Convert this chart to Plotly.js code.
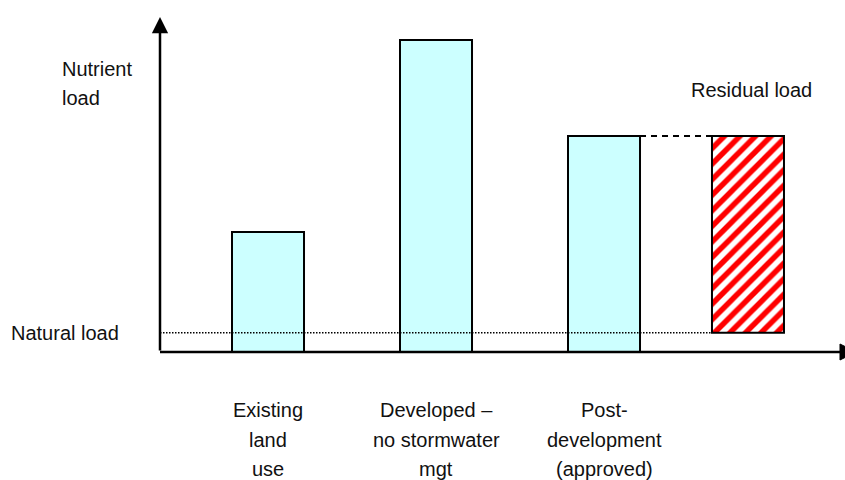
<!DOCTYPE html>
<html>
<head>
<meta charset="utf-8">
<script src="https://cdn.plot.ly/plotly-3.0.1.min.js"></script>
<style>
  html, body { margin: 0; padding: 0; background: #fff; }
  #chart { width: 845px; height: 480px; }
</style>
</head>
<body>
<div id="chart"></div>
<script>
// Nutrient loads by land-use scenario (relative units)
const categories = ["Existing<br>land<br>use", "Developed \u2013<br>no stormwater<br>mgt", "Post-<br>development<br>(approved)"];
const categoryPos = [1, 2, 3];
const loads = [1.25, 3.25, 2.25];
const naturalLoad = 0.2;
const residualPos = 3.857;
const residualTop = loads[2];

const barWidth = 0.4286;
const xRange = [0.3571, 4.4345];
const yRange = [0, 3.5];
const lineGap = 29.5; // px between stacked text lines
const txt = { family: "'Liberation Sans', Arial, sans-serif", size: 20, color: "#111" };

const traces = [
  {
    type: "bar",
    x: categoryPos,
    y: loads,
    width: barWidth,
    marker: { color: "#CCFFFF", line: { color: "#000", width: 2 } },
    hoverinfo: "skip"
  },
  {
    type: "bar",
    x: [residualPos],
    y: [residualTop - naturalLoad],
    base: [naturalLoad],
    width: barWidth,
    marker: {
      color: "#ffffff",
      line: { color: "#000", width: 2 },
      pattern: { shape: "/", fgcolor: "#ff0000", bgcolor: "#ffffff", size: 11, solidity: 0.5 }
    },
    hoverinfo: "skip"
  }
];

const shapes = [
  // natural load reference
  {
    type: "line", xref: "x", yref: "y",
    x0: xRange[0], x1: residualPos - barWidth / 2,
    y0: naturalLoad, y1: naturalLoad,
    line: { color: "#000", width: 1.5, dash: "1.5px,1.5px" },
    layer: "above"
  },
  // post-development level carried across to the residual bar
  {
    type: "line", xref: "x", yref: "y",
    x0: categoryPos[2] + barWidth / 2, x1: residualPos - barWidth / 2,
    y0: residualTop, y1: residualTop,
    line: { color: "#000", width: 2, dash: "6px,5px" }
  },
  // horizontal axis line and its arrowhead (runs off the right edge)
  {
    type: "line", xref: "paper", yref: "paper",
    x0: 0, x1: 0.993, y0: 0, y1: 0,
    line: { color: "#000", width: 2.5 }, layer: "above"
  },
  {
    type: "path", xref: "paper", yref: "paper",
    path: "M 0.9927 0.0238 L 1.0161 0 L 0.9927 -0.0238 Z",
    fillcolor: "#000", line: { color: "#000", width: 1 }, layer: "above"
  }
];

// stack a multi-line label as separate lines centred on (x, y)
function stacked(label, base) {
  const lines = label.split("<br>");
  const mid = (lines.length - 1) / 2;
  return lines.map((ln, k) => Object.assign({}, base, {
    text: ln, yshift: (mid - k) * lineGap, showarrow: false, font: txt, yanchor: "middle"
  }));
}

let annotations = [
  // vertical axis with arrow
  { xref: "paper", yref: "paper", x: 0, y: 0.997, ax: 0, ay: 335, axref: "pixel", ayref: "pixel",
    showarrow: true, arrowhead: 2, arrowsize: 1.3, arrowwidth: 2.5, arrowcolor: "#000", text: "" },
  { xref: "paper", yref: "y", x: -0.1394, y: naturalLoad, xanchor: "center", yanchor: "middle",
    showarrow: false, text: "Natural load", font: txt },
  { xref: "x", yref: "paper", x: residualPos, xshift: 4, y: 0.7798, xanchor: "center", yanchor: "middle",
    showarrow: false, text: "Residual load", font: txt }
];
annotations = annotations.concat(stacked("Nutrient<br>load",
  { xref: "paper", yref: "paper", x: -0.146, y: 0.799, xanchor: "left", align: "left" }));
categories.forEach((c, i) => {
  annotations = annotations.concat(stacked(c,
    { xref: "x", yref: "paper", x: categoryPos[i], y: -0.2619, xanchor: "center", align: "center" }));
});

const layout = {
  width: 845, height: 480,
  margin: { l: 160, r: 0, t: 16, b: 128, pad: 0 },
  paper_bgcolor: "#fff", plot_bgcolor: "#fff",
  showlegend: false,
  barmode: "overlay",
  xaxis: { range: xRange, showline: false, showgrid: false, zeroline: false, showticklabels: false, ticks: "", fixedrange: true },
  yaxis: { range: yRange, showline: false, showgrid: false, zeroline: false, showticklabels: false, ticks: "", fixedrange: true },
  shapes: shapes,
  annotations: annotations,
  font: txt
};

Plotly.newPlot("chart", traces, layout, { displayModeBar: false, staticPlot: true });
</script>
</body>
</html>
